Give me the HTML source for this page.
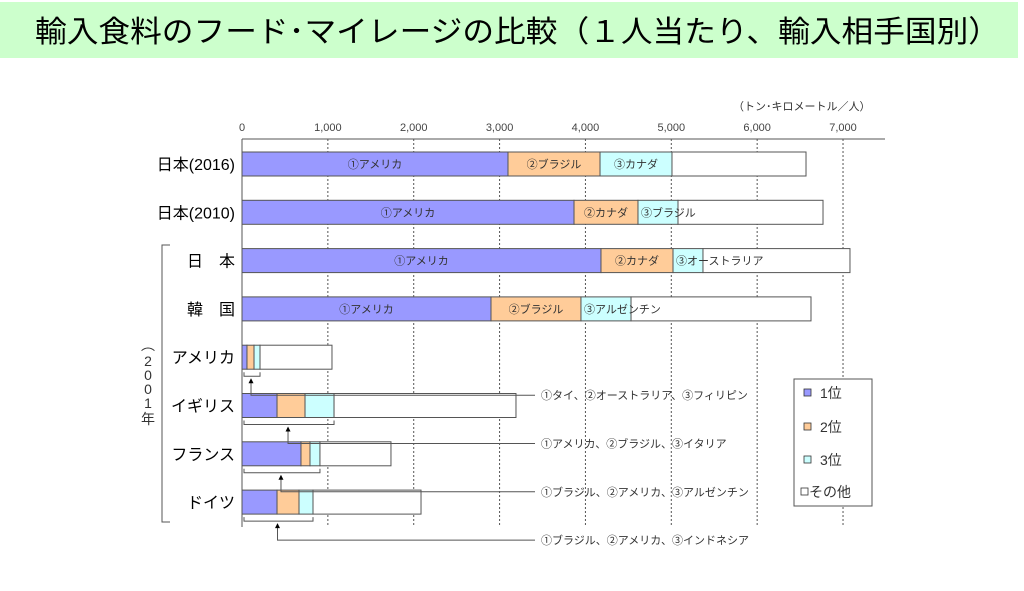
<!DOCTYPE html>
<html><head><meta charset="utf-8"><style>
body{margin:0;background:#fff;width:1024px;height:586px;overflow:hidden;font-family:"Liberation Sans","Noto Sans CJK JP",sans-serif}
svg text{font-family:"Liberation Sans","Noto Sans CJK JP",sans-serif}
</style></head><body>
<svg id="chart" width="1024" height="586" viewBox="0 0 1024 586" xmlns="http://www.w3.org/2000/svg">
<rect x="0" y="2" width="1018" height="56" fill="#ccffcc"/>
<text x="35" y="42" font-size="30" textLength="965" lengthAdjust="spacingAndGlyphs" fill="#000">輸入食料のフード･マイレージの比較（１人当たり、輸入相手国別）</text>
<text x="733" y="110" font-size="11" fill="#333">（トン･キロメートル／人）</text>
<g id="grid"></g><g id="bars"></g><g id="labels"></g>
<path d="M170,245 L162,245 L162,522 L170,522" fill="none" stroke="#555" stroke-width="1"/>
<text x="148" y="350" font-size="14" fill="#333" text-anchor="middle"><tspan x="148" dy="0">︵</tspan><tspan x="148" dy="16">2</tspan><tspan x="148" dy="14">0</tspan><tspan x="148" dy="14">0</tspan><tspan x="148" dy="14">1</tspan><tspan x="148" dy="16">年</tspan></text>
<g>
<rect x="794" y="379" width="78" height="127" fill="#fff" stroke="#555"/>
<rect x="804" y="389" width="7" height="7" fill="#9999ff" stroke="#333" stroke-width="0.8"/><text x="820" y="398" font-size="14" fill="#333">1位</text>
<rect x="804" y="423" width="7" height="7" fill="#ffcc99" stroke="#333" stroke-width="0.8"/><text x="820" y="432" font-size="14" fill="#333">2位</text>
<rect x="804" y="456" width="7" height="7" fill="#ccffff" stroke="#333" stroke-width="0.8"/><text x="820" y="465" font-size="14" fill="#333">3位</text>
<rect x="801" y="488" width="7" height="7" fill="#fff" stroke="#333" stroke-width="0.8"/><text x="809" y="497" font-size="14" fill="#333">その他</text>
</g>
</svg>
<script>
const categories=["日本(2016)","日本(2010)","日　本","韓　国","アメリカ","イギリス","フランス","ドイツ"];
const rank1=[3098,3867,4181,2900,58,408,687,408];
const rank2=[1072,745,839,1048,82,326,105,256];
const rank3=[838,466,349,583,70,338,116,163];
const others=[1561,1689,1712,2096,838,2119,827,1258];
const barText1=["①アメリカ","①アメリカ","①アメリカ","①アメリカ","","","",""];
const barText2=["②ブラジル","②カナダ","②カナダ","②ブラジル","","","",""];
const barText3=["③カナダ","③ブラジル","③オーストラリア","③アルゼンチン","","","",""];
const notes=["","","","","①タイ、②オーストラリア、③フィリピン","①アメリカ、②ブラジル、③イタリア","①ブラジル、②アメリカ、③アルゼンチン","①ブラジル、②アメリカ、③インドネシア"];
const ticks=[0,1000,2000,3000,4000,5000,6000,7000];
const tickLabels=["0","1,000","2,000","3,000","4,000","5,000","6,000","7,000"];
const NS="http://www.w3.org/2000/svg";
const X=v=>242+v*85.86/1000;
const Y=i=>164+i*48.3;
function mk(tag,attrs,parent,txt){const e=document.createElementNS(NS,tag);for(const k in attrs)e.setAttribute(k,attrs[k]);if(txt!==undefined)e.textContent=txt;parent.appendChild(e);return e;}
const grid=document.getElementById('grid'),bars=document.getElementById('bars'),labels=document.getElementById('labels');
let ax=mk('line',{x1:242,y1:139,x2:885,y2:139,stroke:'#555'},grid);


let ay=mk('line',{x1:242,y1:139,x2:242,y2:527,stroke:'#555'},grid);


ticks.forEach((t,i)=>{
 if(i>0){let g=mk('line',{x1:X(t),y1:139,x2:X(t),y2:527,stroke:'#555','stroke-dasharray':'2,2'},grid);
 
 }
 let tl=mk('text',{x:X(t),y:131,'font-size':11,'text-anchor':'middle',fill:'#444'},grid,tickLabels[i]);
 
 
});
const fills=['#9999ff','#ffcc99','#ccffff','#ffffff'];
categories.forEach((c,i)=>{
 const y=Y(i)-12,h=24;
 const vals=[rank1[i],rank2[i],rank3[i],others[i]];
 const txts=[barText1[i],barText2[i],barText3[i],''];
 let s=0;
 vals.forEach((v,k)=>{
  let r=mk('rect',{x:X(s),y:y,width:X(s+v)-X(s),height:h,fill:fills[k],stroke:'#555','stroke-width':1},bars);
  
  
  if(txts[k]){
   const big=k===0||X(s+v)-X(s)>60;
   let t=mk('text',{x:big?(X(s)+X(s+v))/2:X(s)+3,y:Y(i)+4,'font-size':11,'text-anchor':big?'middle':'start',fill:'#333'},labels,txts[k]);
   
   
  }
  s+=v;
 });
 const lab=mk('text',{x:235,y:Y(i)+6,'font-size':16,'text-anchor':'end',fill:'#000'},labels,c);
 
 
 if(notes[i]){
  const x3=X(rank1[i]+rank2[i]+rank3[i]);
  const by=Y(i)+15,mx=(X(0)+x3)/2,ly=Y(i)+38;
  let p=mk('path',{d:`M${X(0)+2},${by} L${X(0)+2},${by+4} L${x3},${by+4} L${x3},${by}`,fill:'none',stroke:'#555'},labels);
  
  
  let l=mk('path',{d:`M${mx},${by+8} L${mx},${ly} L535,${ly}`,fill:'none',stroke:'#555'},labels);
  
  
  let a=mk('path',{d:`M${mx-2.5},${by+11} L${mx+2.5},${by+11} L${mx},${by+6} Z`,fill:'#000'},labels);
  
  
  let t=mk('text',{x:541,y:ly+4,'font-size':11,fill:'#333'},labels,notes[i]);
  
  
 }
});
</script>
</body></html>
